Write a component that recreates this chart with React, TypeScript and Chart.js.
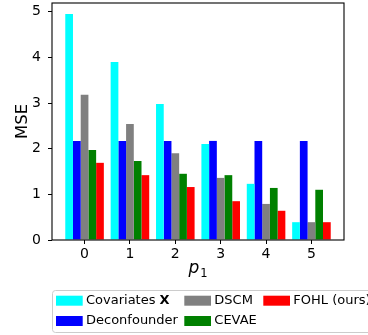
import React, { useEffect, useRef } from "react";
import { Chart, registerables } from "chart.js";

Chart.register(...registerables);

const categories = [0, 1, 2, 3, 4, 5];
const xTickLabels = ["0", "1", "2", "3", "4", "5"];
const yTicks = [0, 1, 2, 3, 4, 5];

const covariatesX = [4.95, 3.9, 2.98, 2.1, 1.23, 0.39];
const deconfounder = [2.17, 2.17, 2.17, 2.17, 2.17, 2.17];
const dscm = [3.18, 2.54, 1.9, 1.36, 0.79, 0.39];
const cevae = [1.97, 1.73, 1.45, 1.42, 1.14, 1.1];
const fohl = [1.69, 1.42, 1.16, 0.85, 0.64, 0.39];

const seriesLabels = ["Covariates X", "Deconfounder", "DSCM", "CEVAE", "FOHL (ours)"];
const seriesColors = ["#00ffff", "#0000ff", "#808080", "#008000", "#ff0000"];
const seriesValues = [covariatesX, deconfounder, dscm, cevae, fohl];

const FONT = "'DejaVu Sans', sans-serif";

const decorPlugin = {
  id: "decor",
  afterDraw(chart: any) {
    const { ctx, chartArea: a } = chart;
    ctx.save();
    // axes frame
    ctx.strokeStyle = "#000";
    ctx.lineWidth = 1.1;
    ctx.strokeRect(a.left, a.top, a.right - a.left, a.bottom - a.top);

    // y title
    ctx.save();
    ctx.translate(23, (a.top + a.bottom) / 2);
    ctx.rotate(-Math.PI / 2);
    ctx.font = `16.5px ${FONT}`;
    ctx.fillStyle = "#000";
    ctx.textAlign = "center";
    ctx.textBaseline = "middle";
    ctx.fillText("MSE", 0, 0);
    ctx.restore();

    // x title p_1
    const cx = (a.left + a.right) / 2;
    ctx.fillStyle = "#000";
    ctx.textBaseline = "alphabetic";
    ctx.textAlign = "left";
    ctx.font = `italic 17px ${FONT}`;
    const pw = ctx.measureText("p").width;
    ctx.font = `11.5px ${FONT}`;
    const sw = ctx.measureText("1").width;
    const total = pw + sw + 1;
    const x0 = cx - total / 2;
    ctx.font = `italic 17px ${FONT}`;
    ctx.fillText("p", x0, 272.5);
    ctx.font = `11.5px ${FONT}`;
    ctx.fillText("1", x0 + pw + 1, 277);

    // legend
    const bx = 52, by = 290.5, bw = 330, bh = 42;
    ctx.beginPath();
    ctx.roundRect(bx + 0.5, by, bw, bh, 3);
    ctx.fillStyle = "rgba(255,255,255,0.8)";
    ctx.fill();
    ctx.strokeStyle = "#cccccc";
    ctx.lineWidth = 1;
    ctx.stroke();

    const colX = [56, 184.3, 263.3];
    const rowY = [300.7, 321];
    chart.data.datasets.forEach((ds: any, i: number) => {
      const col = Math.floor(i / 2);
      const row = i % 2;
      const px = colX[col];
      const py = rowY[row];
      ctx.fillStyle = ds.backgroundColor;
      ctx.fillRect(px, py - 5, 26.7, 10);
      ctx.fillStyle = "#000";
      ctx.textBaseline = "middle";
      ctx.textAlign = "left";
      const label: string = ds.label;
      const tx = px + 30;
      if (label.endsWith(" X")) {
        const main = label.slice(0, -1);
        ctx.font = `13px ${FONT}`;
        ctx.fillText(main, tx, py);
        const w = ctx.measureText(main).width;
        ctx.font = `bold 13px ${FONT}`;
        ctx.fillText("X", tx + w, py);
      } else {
        ctx.font = `13px ${FONT}`;
        ctx.fillText(label, tx, py);
      }
    });
    ctx.restore();
  },
};

export default function App() {
  const ref = useRef<HTMLCanvasElement | null>(null);
  useEffect(() => {
    document.body.style.margin = "0";
    const canvas = ref.current;
    if (!canvas) return;
    const chart = new Chart(canvas, {
      type: "bar",
      data: {
        datasets: seriesLabels.map((label, i) => ({
          label,
          data: seriesValues[i].map((v, j) => ({ x: categories[j], y: v })),
          backgroundColor: seriesColors[i],
          borderWidth: 0,
          categoryPercentage: 0.85,
          barPercentage: 1.0,
        })),
      },
      options: {
        responsive: false,
        animation: false,
        devicePixelRatio: 1,
        layout: { padding: { left: 0, top: 3, right: 24, bottom: 45 } },
        plugins: {
          legend: { display: false },
          tooltip: { enabled: false },
        },
        scales: {
          x: {
            type: "linear",
            min: -0.7175,
            max: 5.7175,
            offset: false,
            afterBuildTicks: (axis: any) => {
              axis.ticks = categories.map((v) => ({ value: v }));
            },
            afterFit: (s: any) => {
              s.height = 50;
              s.paddingLeft = 0;
              s.paddingRight = 0;
              s.paddingTop = 0;
              s.paddingBottom = 0;
            },
            ticks: {
              autoSkip: false,
              maxRotation: 0,
              padding: 2,
              color: "#000",
              font: { family: FONT, size: 14 },
              callback: (v: any) => xTickLabels[categories.indexOf(Number(v))] ?? "",
            },
            grid: {
              display: true,
              drawOnChartArea: false,
              drawTicks: true,
              tickLength: 4,
              tickColor: "#000",
              tickWidth: 1,
              offset: false,
            },
            border: { display: false },
          },
          y: {
            type: "linear",
            min: 0,
            max: 5.19,
            afterBuildTicks: (axis: any) => {
              axis.ticks = yTicks.map((v) => ({ value: v }));
            },
            afterFit: (s: any) => {
              s.width = 52;
              s.paddingLeft = 0;
              s.paddingRight = 0;
              s.paddingTop = 0;
              s.paddingBottom = 0;
            },
            ticks: {
              padding: 7,
              color: "#000",
              font: { family: FONT, size: 14 },
              callback: (v: any) => String(v),
            },
            grid: {
              display: true,
              drawOnChartArea: false,
              drawTicks: true,
              tickLength: 4,
              tickColor: "#000",
              tickWidth: 1,
            },
            border: { display: false },
          },
        },
      },
      plugins: [decorPlugin],
    } as any);
    return () => chart.destroy();
  }, []);
  return (
    <div style={{ position: "fixed", left: 0, top: 0, width: 368, height: 335, background: "#fff" }}>
      <canvas ref={ref} width={368} height={335} style={{ display: "block", width: 368, height: 335 }} />
    </div>
  );
}
